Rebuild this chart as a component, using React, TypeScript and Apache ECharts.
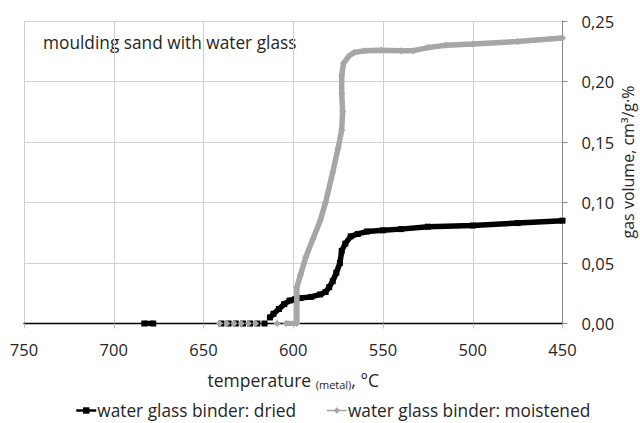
import React, { useEffect, useRef } from "react";
import * as echarts from "echarts";

// temperature (°C), gas volume (cm3/g·%)
const driedT: (number)[] = [683, 678, 660, 640, 636, 632, 628, 624, 620, 616, 613, 611, 608, 605, 602, 599, 596, 590, 585, 582, 580, 578, 576, 574, 573, 571, 568, 564, 559, 550, 540, 525, 500, 475, 450];
const driedV: (number | string)[] = [0, 0, "-", 0, 0, 0, 0, 0, 0, 0, 0.005, 0.008, 0.012, 0.016, 0.019, 0.02, 0.021, 0.022, 0.024, 0.026, 0.03, 0.035, 0.042, 0.05, 0.06, 0.066, 0.072, 0.074, 0.076, 0.077, 0.078, 0.08, 0.081, 0.083, 0.085];

const moistT: number[] = [641, 637, 633, 629, 625, 621, 609, 604, 598, 598, 596, 593, 589, 585, 582, 578, 575, 573, 572.5, 573, 573, 572, 569, 566, 560, 551, 540, 533, 525, 515, 500, 475, 450];
const moistV: number[] = [0, 0, 0, 0, 0, 0, 0, 0, 0, 0.03, 0.04, 0.055, 0.07, 0.085, 0.1, 0.125, 0.145, 0.16, 0.175, 0.19, 0.205, 0.215, 0.221, 0.224, 0.2255, 0.2258, 0.2255, 0.2255, 0.228, 0.23, 0.231, 0.233, 0.236];
const moistIsolated = 8; // first 8 points are isolated markers

const xTicks = [750, 700, 650, 600, 550, 500, 450];
const yTicks = [0, 0.05, 0.1, 0.15, 0.2, 0.25];

const seriesNames = ["water glass binder: dried", "water glass binder: moistened"];
const FONT = "Open Sans";

function buildDried() {
  const out: any[] = [];
  out.push([driedT[0], driedV[0]]);
  out.push([driedT[1], driedV[1]]);
  out.push([driedT[2], "-"]);
  for (let i = 3; i < 10; i++) {
    out.push([driedT[i], driedV[i]]);
    out.push([(driedT[i] + driedT[i + 1]) / 2, "-"]);
  }
  for (let i = 10; i < driedT.length; i++) out.push([driedT[i], driedV[i]]);
  return out;
}

function buildMoist() {
  const out: any[] = [];
  for (let i = 0; i < moistT.length; i++) {
    out.push([moistT[i], moistV[i]]);
    if (i < moistIsolated - 1) out.push([(moistT[i] + moistT[i + 1]) / 2, "-"]);
  }
  return out;
}

export default function App() {
  const ref = useRef<HTMLDivElement>(null);
  useEffect(() => {
    if (!ref.current) return;
    const chart = echarts.init(ref.current, undefined, { renderer: "svg" });
    chart.setOption({
      animation: false,
      backgroundColor: "#ffffff",
      textStyle: { fontFamily: FONT },
      grid: { left: 24, right: 77.5, top: 21, bottom: 99.5, containLabel: false, outerBoundsMode: "none" },
      graphic: [
        {
          type: "text",
          left: 43,
          top: 34,
          style: { text: "moulding sand with water glass", fontFamily: FONT, fontSize: 17.3, fill: "#262626" },
        },
        {
          type: "text",
          x: 628,
          y: 162,
          rotation: Math.PI / 2,
          style: {
            text: "gas volume, cm³/g·%",
            fontFamily: FONT,
            fontSize: 16,
            fill: "#262626",
            align: "center",
            verticalAlign: "middle",
          },
        },
      ],
      legend: {
        top: 397,
        left: 70,
        itemGap: 30,
        itemWidth: 20,
        itemHeight: 8,
        textStyle: { fontFamily: FONT, fontSize: 17.3, color: "#262626", padding: [0, 0, 0, -4] },
        data: [
          { name: seriesNames[0], itemStyle: { color: "#000" }, lineStyle: { width: 2.5, color: "#000" } },
          { name: seriesNames[1], itemStyle: { color: "#a6a6a6" }, lineStyle: { width: 1.5, color: "#a6a6a6" } },
        ],
      },
      xAxis: {
        type: "value",
        min: 450,
        max: 750,
        interval: 50,
        inverse: true,
        name: "{a|temperature }{s|(metal)}{a|, °C}",
        nameLocation: "middle",
        nameGap: 46,
        nameTextStyle: {
          rich: {
            a: { fontFamily: FONT, fontSize: 17.5, color: "#262626" },
            s: { fontFamily: FONT, fontSize: 11, color: "#262626", padding: [9, 0, 0, 0] },
          },
        },
        axisLine: { show: true, onZero: false, lineStyle: { color: "#000", width: 1.3 } },
        axisTick: { show: true, length: 5, lineStyle: { color: "#bfbfbf" } },
        axisLabel: {
          fontFamily: FONT,
          fontSize: 16.5,
          color: "#262626",
          margin: 17,
          formatter: (v: number) => (xTicks.includes(v) ? String(v) : ""),
        },
        splitLine: { show: true, lineStyle: { color: "#d0d0d0", width: 1 } },
      },
      yAxis: {
        type: "value",
        position: "right",
        min: 0,
        max: 0.25,
        interval: 0.05,
        axisLine: { show: true, lineStyle: { color: "#888888", width: 1 } },
        axisTick: { show: true, length: 5, lineStyle: { color: "#888888" } },
        axisLabel: {
          fontFamily: FONT,
          fontSize: 16.5,
          color: "#262626",
          margin: 19,
          formatter: (v: number) => (yTicks.some((t) => Math.abs(t - v) < 1e-9) ? v.toFixed(2).replace(".", ",") : ""),
        },
        splitLine: { show: true, lineStyle: { color: "#d0d0d0", width: 1 } },
      },
      series: [
        {
          name: seriesNames[0],
          type: "line",
          data: buildDried(),
          connectNulls: false,
          showSymbol: true,
          showAllSymbol: true,
          symbol: "rect",
          symbolSize: 6,
          itemStyle: { color: "#000000" },
          lineStyle: { color: "#000000", width: 5.5 },
          z: 2,
        },
        {
          name: seriesNames[1],
          type: "line",
          data: buildMoist(),
          connectNulls: false,
          showSymbol: true,
          showAllSymbol: true,
          symbol: "diamond",
          symbolSize: 7,
          itemStyle: { color: "#a6a6a6" },
          lineStyle: { color: "#a6a6a6", width: 5.5 },
          z: 3,
        },
      ],
    });
    return () => chart.dispose();
  }, []);
  return <div ref={ref} style={{ width: 640, height: 423, position: "absolute", left: 0, top: 0 }} />;
}
